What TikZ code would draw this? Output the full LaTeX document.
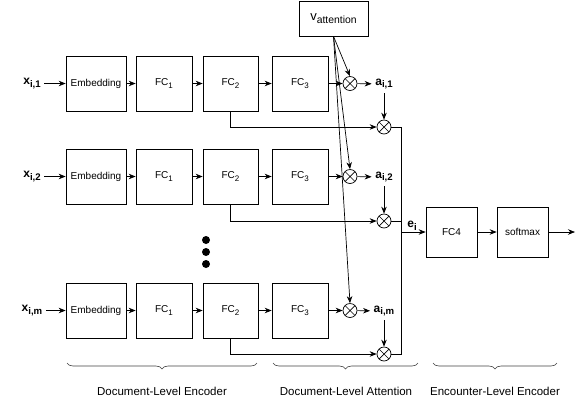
\documentclass[tikz,border=0pt]{standalone}
\usepackage{graphicx}
\usepackage{fontspec}
\setmainfont{Liberation Sans}
\usetikzlibrary{arrows.meta,decorations.pathreplacing}
\newcommand{\subtxt}[1]{\raisebox{-0.45ex}{\scalebox{0.8}{#1}}}
\begin{document}
\begin{tikzpicture}[x=1pt,y=-1pt,line width=0.7pt,
  box/.style={draw,minimum height=55pt,inner sep=1pt,font=\fontsize{10}{12}\selectfont},
  mult/.style={circle,draw,minimum size=14pt,inner sep=0pt,
    path picture={\draw (path picture bounding box.center) ++(45:7pt) -- ++(225:14pt)
      (path picture bounding box.center) ++(135:7pt) -- ++(-45:14pt);}},
  arr/.style={-{Stealth[length=7pt,width=5.5pt]}},
  lbl/.style={font=\fontsize{12}{14}\selectfont\bfseries},
  brc/.style={draw=black!75,line width=0.6pt,decorate,decoration={brace,amplitude=6pt}},
  bracetext/.style={font=\fontsize{11.5}{14}\selectfont}]
\useasboundingbox (0,0) rectangle (581,400);
% attention vector
\node[draw,minimum width=69pt,minimum height=35pt,font=\fontsize{13}{15}\selectfont] (vatt) at (333.5,18.5) {v\subtxt{attention}};
% first document
\node[lbl] (x1) at (32,83.5) {x\subtxt{i,1}};
\node[box,minimum width=60pt] (emb1) at (96,83.5) {Embedding};
\node[box,minimum width=56pt] (fca1) at (164,83.5) {FC\subtxt{1}};
\node[box,minimum width=55pt] (fcb1) at (230.5,83.5) {FC\subtxt{2}};
\node[box,minimum width=56pt] (fcc1) at (300,83.5) {FC\subtxt{3}};
\node[mult] (m1) at (350,83.5) {};
\node[lbl] (a1) at (384,84) {a\subtxt{i,1}};
\node[mult] (s1) at (384,127) {};
% second document
\node[lbl] (x2) at (32,176.5) {x\subtxt{i,2}};
\node[box,minimum width=60pt] (emb2) at (96,176.5) {Embedding};
\node[box,minimum width=56pt] (fca2) at (164,176.5) {FC\subtxt{1}};
\node[box,minimum width=55pt] (fcb2) at (230.5,176.5) {FC\subtxt{2}};
\node[box,minimum width=56pt] (fcc2) at (300,176.5) {FC\subtxt{3}};
\node[mult] (m2) at (350,176.5) {};
\node[lbl] (a2) at (384,177) {a\subtxt{i,2}};
\node[mult] (s2) at (384,221) {};
% last document
\node[lbl] (xm) at (32,310.5) {x\subtxt{i,m}};
\node[box,minimum width=60pt] (embm) at (96,310.5) {Embedding};
\node[box,minimum width=56pt] (fcam) at (164,310.5) {FC\subtxt{1}};
\node[box,minimum width=55pt] (fcbm) at (230.5,310.5) {FC\subtxt{2}};
\node[box,minimum width=56pt] (fccm) at (300,310.5) {FC\subtxt{3}};
\node[mult] (mm) at (350,310.5) {};
\node[lbl] (am) at (384,311) {a\subtxt{i,m}};
\node[mult] (sm) at (384,354) {};
% encounter level
\node[box,minimum width=51pt,minimum height=50pt] (fc4) at (451.5,232) {FC4};
\node[box,minimum width=51pt,minimum height=50pt] (soft) at (522.5,232) {softmax};
\coordinate (out) at (575,232);
\coordinate (bt) at (401,127);
\coordinate (bb) at (401,354);
\fill (206,240) circle (4pt) (206,252) circle (4pt) (206,264) circle (4pt);

\draw[arr] (x1) -- (emb1);
\draw[arr] (emb1) -- (fca1);
\draw[arr] (fca1) -- (fcb1);
\draw[arr] (fcb1) -- (fcc1);
\draw[arr] (fcc1) -- (m1);
\draw[arr] (m1) -- (a1);
\draw[arr] (a1.south -| s1) -- (s1);
\draw[arr] (fcb1.south) |- (s1);
\draw[arr] (x2) -- (emb2);
\draw[arr] (emb2) -- (fca2);
\draw[arr] (fca2) -- (fcb2);
\draw[arr] (fcb2) -- (fcc2);
\draw[arr] (fcc2) -- (m2);
\draw[arr] (m2) -- (a2);
\draw[arr] (a2.south -| s2) -- (s2);
\draw[arr] (fcb2.south) |- (s2);
\draw[arr] (xm) -- (embm);
\draw[arr] (embm) -- (fcam);
\draw[arr] (fcam) -- (fcbm);
\draw[arr] (fcbm) -- (fccm);
\draw[arr] (fccm) -- (mm);
\draw[arr] (mm) -- (am);
\draw[arr] (am.south -| sm) -- (sm);
\draw[arr] (fcbm.south) |- (sm);
\draw[arr] (vatt.south) -- (m1.north);
\draw[arr] (vatt.south) -- (m2.north);
\draw[arr] (vatt.south) -- (mm.north);
\draw (s1) -- (bt) -- (bb) -- (sm);
\draw (s2) -- (s2 -| bt);
\draw[arr] (fc4.west -| bt) -- node[lbl,above,inner sep=1pt,pos=0.45] (ei) {e\subtxt{i}} (fc4.west);
\draw[arr] (fc4) -- (soft);
\draw[arr] (soft) -- (out);
% braces
\draw[brc] (257,363) -- (67,363);
\draw[brc] (418,363) -- (273,363);
\draw[brc] (557,363) -- (433,363);
\node[bracetext] (enc) at (162,391) {Document-Level Encoder};
\node[bracetext] (att) at (346,391) {Document-Level Attention};
\node[bracetext] (enc2) at (495,391) {Encounter-Level Encoder};
\end{tikzpicture}
\end{document}
